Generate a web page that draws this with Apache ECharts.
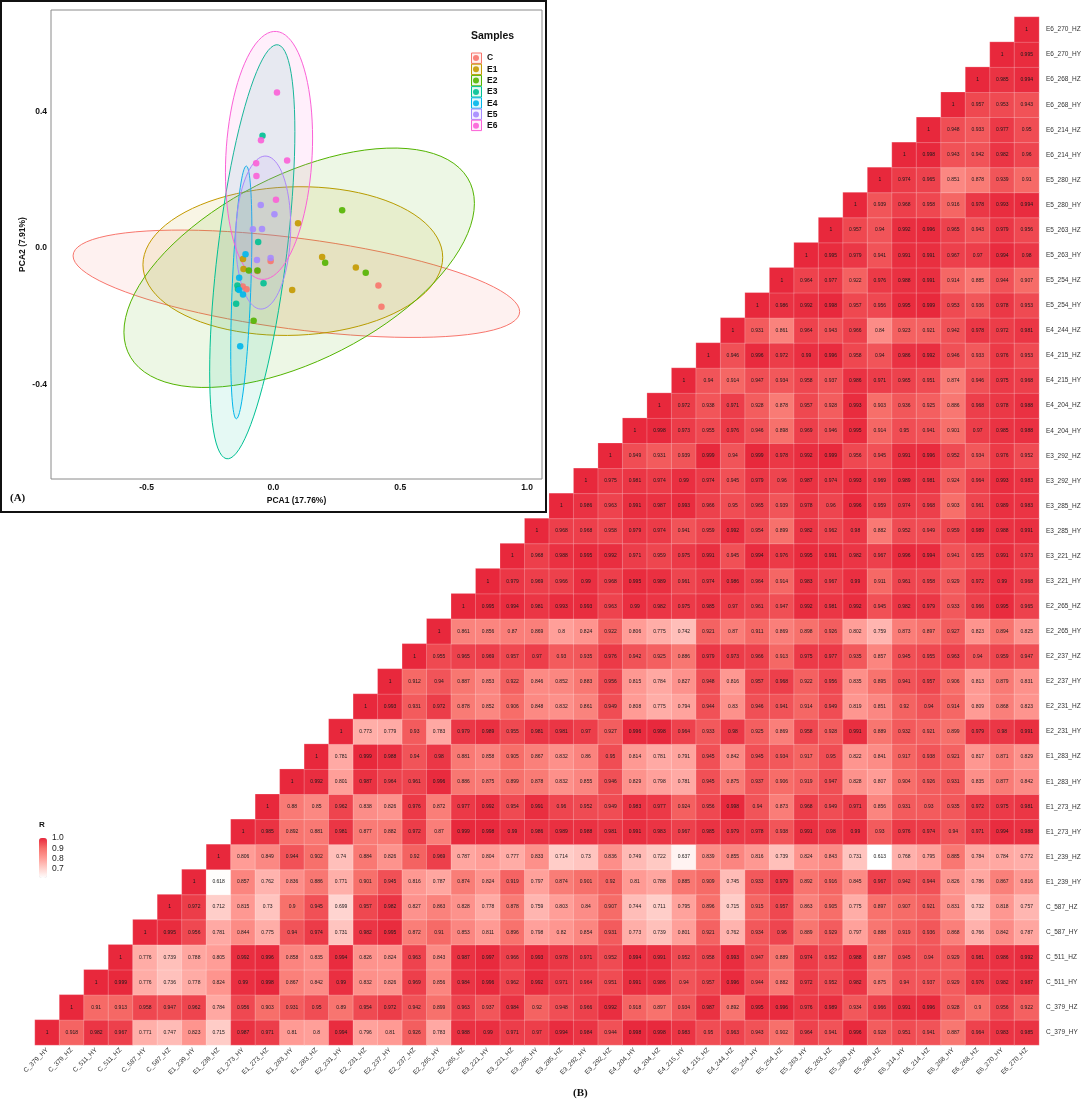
<!DOCTYPE html>
<html>
<head>
<meta charset="utf-8">
<script src="https://cdn.jsdelivr.net/npm/echarts@6/dist/echarts.min.js"></script>
<style>
html,body{margin:0;padding:0;background:#fff;}
#main{width:1084px;height:1102px;}
</style>
</head>
<body>
<div id="main"></div>
<script>
var groups = ["C","E1","E2","E3","E4","E5","E6"];
var groupColors = ["#F8766D","#C49A00","#53B400","#00C094","#00B6EB","#A58AFF","#FB61D7"];

// PCA scores: [PCA1, PCA2]
var pointsC = [[-0.011,-0.038],[0.414,-0.110],[0.426,-0.172],[-0.121,-0.113],[-0.106,-0.121],[-0.063,-0.067]];
var pointsE1 = [[0.097,0.073],[0.192,-0.026],[0.325,-0.057],[0.074,-0.123],[-0.120,-0.032],[-0.118,-0.061]];
var pointsE2 = [[0.271,0.111],[0.204,-0.043],[0.364,-0.072],[-0.078,-0.213],[-0.063,-0.066],[-0.097,-0.066]];
var pointsE3 = [[-0.043,0.329],[-0.060,0.018],[-0.039,-0.103],[-0.147,-0.163],[-0.142,-0.110],[-0.140,-0.120]];
var pointsE4 = [[-0.110,-0.018],[-0.135,-0.087],[-0.135,-0.123],[-0.120,-0.136],[-0.131,-0.288]];
var pointsE5 = [[-0.050,0.126],[0.004,0.099],[-0.081,0.055],[-0.045,0.056],[-0.065,-0.035],[-0.011,-0.029]];
var pointsE6 = [[0.014,0.456],[-0.049,0.316],[-0.068,0.249],[0.054,0.257],[-0.067,0.211],[0.010,0.142]];
var groupPoints = [pointsC,pointsE1,pointsE2,pointsE3,pointsE4,pointsE5,pointsE6];

// ellipses, one entry per group: centre, half width, half height, tilt
var ellipseCx = [0.0905,0.0765,0.1015,-0.0834,-0.1266,-0.0403,-0.0174];
var ellipseCy = [-0.1046,-0.0381,-0.0577,-0.0108,-0.130,0.0455,0.2717];
var ellipseRx = [0.8805,0.591,0.691,0.168,0.0417,0.1085,0.1718];
var ellipseRy = [0.1574,0.218,0.351,0.607,0.3705,0.2243,0.3636];
var ellipseTilt = [-0.52,0.05,0.538,0.58,0.47,0.08,0.14];

var pcaXTicks = [-0.5,0,0.5,1];
var pcaYTicks = [-0.4,0,0.4];
var colorTicks = [0.7,0.8,0.9,1];

var samples = ["C_379_HY","C_379_HZ","C_511_HY","C_511_HZ","C_587_HY","C_587_HZ",
	"E1_239_HY","E1_239_HZ","E1_273_HY","E1_273_HZ","E1_283_HY","E1_283_HZ",
	"E2_231_HY","E2_231_HZ","E2_237_HY","E2_237_HZ","E2_265_HY","E2_265_HZ",
	"E3_221_HY","E3_221_HZ","E3_285_HY","E3_285_HZ","E3_292_HY","E3_292_HZ",
	"E4_204_HY","E4_204_HZ","E4_215_HY","E4_215_HZ","E4_244_HZ",
	"E5_254_HY","E5_254_HZ","E5_263_HY","E5_263_HZ","E5_280_HY","E5_280_HZ",
	"E6_214_HY","E6_214_HZ","E6_268_HY","E6_268_HZ","E6_270_HY","E6_270_HZ"];

// correlation rows, bottom row first, each one starts on the diagonal
var r00 = [1,0.918,0.982,0.967,0.771,0.747,0.823,0.715,0.987,0.971,0.81,0.8,0.994,0.796,0.81,0.926,0.783,0.988,0.99,0.971,0.97,0.994,0.984,0.944,0.998,0.998,0.983,0.95,0.963,0.943,0.902,0.964,0.941,0.996,0.928,0.951,0.941,0.887,0.964,0.983,0.985];
var r01 = [1,0.91,0.913,0.958,0.947,0.962,0.784,0.956,0.903,0.931,0.95,0.89,0.954,0.972,0.942,0.899,0.963,0.937,0.984,0.92,0.948,0.966,0.992,0.918,0.897,0.934,0.987,0.892,0.995,0.996,0.976,0.989,0.934,0.966,0.991,0.996,0.928,0.9,0.956,0.922];
var r02 = [1,0.999,0.776,0.736,0.778,0.824,0.99,0.998,0.867,0.842,0.99,0.832,0.826,0.969,0.856,0.984,0.996,0.962,0.992,0.971,0.964,0.951,0.991,0.986,0.94,0.957,0.996,0.944,0.882,0.972,0.952,0.982,0.875,0.94,0.937,0.929,0.976,0.982,0.987];
var r03 = [1,0.776,0.739,0.788,0.805,0.992,0.996,0.858,0.835,0.994,0.826,0.824,0.963,0.843,0.987,0.997,0.966,0.993,0.978,0.971,0.952,0.994,0.991,0.952,0.958,0.993,0.947,0.889,0.974,0.952,0.988,0.887,0.945,0.94,0.929,0.981,0.986,0.992];
var r04 = [1,0.995,0.956,0.781,0.844,0.775,0.94,0.974,0.731,0.982,0.995,0.872,0.91,0.853,0.811,0.896,0.798,0.82,0.854,0.931,0.773,0.739,0.801,0.921,0.762,0.934,0.96,0.889,0.929,0.797,0.888,0.919,0.936,0.868,0.766,0.842,0.787];
var r05 = [1,0.972,0.712,0.815,0.73,0.9,0.945,0.699,0.957,0.982,0.827,0.863,0.828,0.778,0.878,0.759,0.803,0.84,0.907,0.744,0.711,0.795,0.896,0.715,0.915,0.957,0.863,0.905,0.775,0.897,0.907,0.921,0.831,0.732,0.818,0.757];
var r06 = [1,0.618,0.857,0.762,0.836,0.886,0.771,0.901,0.945,0.816,0.787,0.874,0.824,0.919,0.797,0.874,0.901,0.92,0.81,0.788,0.885,0.909,0.745,0.933,0.979,0.892,0.916,0.845,0.967,0.942,0.944,0.826,0.786,0.867,0.816];
var r07 = [1,0.806,0.849,0.944,0.902,0.74,0.884,0.826,0.92,0.969,0.787,0.804,0.777,0.833,0.714,0.73,0.836,0.749,0.722,0.637,0.839,0.855,0.816,0.739,0.824,0.843,0.731,0.613,0.768,0.795,0.885,0.784,0.784,0.772];
var r08 = [1,0.985,0.892,0.881,0.981,0.877,0.882,0.972,0.87,0.999,0.998,0.99,0.986,0.989,0.988,0.981,0.991,0.983,0.967,0.985,0.979,0.978,0.938,0.991,0.98,0.99,0.93,0.976,0.974,0.94,0.971,0.994,0.988];
var r09 = [1,0.88,0.85,0.962,0.838,0.826,0.976,0.872,0.977,0.992,0.954,0.991,0.96,0.952,0.949,0.983,0.977,0.924,0.956,0.998,0.94,0.873,0.968,0.949,0.971,0.856,0.931,0.93,0.935,0.972,0.975,0.981];
var r10 = [1,0.992,0.801,0.987,0.964,0.961,0.996,0.886,0.875,0.899,0.878,0.832,0.855,0.946,0.829,0.798,0.781,0.945,0.875,0.937,0.906,0.919,0.947,0.828,0.807,0.904,0.926,0.931,0.835,0.877,0.842];
var r11 = [1,0.781,0.999,0.988,0.94,0.98,0.881,0.858,0.905,0.867,0.832,0.86,0.95,0.814,0.781,0.791,0.945,0.842,0.945,0.934,0.917,0.95,0.822,0.841,0.917,0.938,0.921,0.817,0.871,0.829];
var r12 = [1,0.773,0.779,0.93,0.783,0.979,0.989,0.955,0.981,0.981,0.97,0.927,0.996,0.998,0.964,0.933,0.98,0.925,0.869,0.958,0.928,0.991,0.889,0.932,0.921,0.899,0.979,0.98,0.991];
var r13 = [1,0.993,0.931,0.972,0.878,0.852,0.906,0.848,0.832,0.861,0.949,0.808,0.775,0.794,0.944,0.83,0.946,0.941,0.914,0.949,0.819,0.851,0.92,0.94,0.914,0.809,0.868,0.823];
var r14 = [1,0.912,0.94,0.887,0.853,0.922,0.846,0.852,0.883,0.956,0.815,0.784,0.827,0.948,0.816,0.957,0.968,0.922,0.956,0.835,0.895,0.941,0.957,0.906,0.813,0.879,0.831];
var r15 = [1,0.955,0.965,0.969,0.957,0.97,0.93,0.935,0.976,0.942,0.925,0.886,0.979,0.973,0.966,0.913,0.975,0.977,0.935,0.857,0.945,0.955,0.963,0.94,0.959,0.947];
var r16 = [1,0.861,0.856,0.87,0.869,0.8,0.824,0.922,0.806,0.775,0.742,0.921,0.87,0.911,0.869,0.898,0.926,0.802,0.759,0.873,0.897,0.927,0.823,0.894,0.825];
var r17 = [1,0.995,0.994,0.981,0.993,0.993,0.963,0.99,0.982,0.975,0.985,0.97,0.961,0.947,0.992,0.981,0.992,0.945,0.982,0.979,0.933,0.966,0.995,0.965];
var r18 = [1,0.979,0.969,0.966,0.99,0.968,0.995,0.989,0.961,0.974,0.986,0.964,0.914,0.983,0.967,0.99,0.911,0.961,0.958,0.929,0.972,0.99,0.968];
var r19 = [1,0.968,0.988,0.995,0.992,0.971,0.959,0.975,0.991,0.945,0.994,0.976,0.995,0.991,0.982,0.967,0.996,0.994,0.941,0.955,0.991,0.973];
var r20 = [1,0.968,0.968,0.958,0.979,0.974,0.941,0.959,0.992,0.954,0.899,0.982,0.962,0.98,0.882,0.952,0.949,0.959,0.989,0.988,0.991];
var r21 = [1,0.986,0.963,0.991,0.987,0.993,0.966,0.95,0.965,0.939,0.978,0.96,0.996,0.959,0.974,0.968,0.903,0.961,0.989,0.983];
var r22 = [1,0.975,0.981,0.974,0.99,0.974,0.945,0.979,0.96,0.987,0.974,0.993,0.969,0.989,0.981,0.924,0.964,0.993,0.983];
var r23 = [1,0.949,0.931,0.939,0.999,0.94,0.999,0.978,0.992,0.999,0.956,0.945,0.991,0.996,0.952,0.934,0.976,0.952];
var r24 = [1,0.998,0.973,0.955,0.976,0.946,0.898,0.969,0.946,0.995,0.914,0.95,0.941,0.901,0.97,0.985,0.988];
var r25 = [1,0.972,0.938,0.971,0.928,0.878,0.957,0.928,0.993,0.903,0.936,0.925,0.886,0.968,0.978,0.988];
var r26 = [1,0.94,0.914,0.947,0.934,0.958,0.937,0.986,0.971,0.965,0.951,0.874,0.946,0.975,0.968];
var r27 = [1,0.946,0.996,0.972,0.99,0.996,0.958,0.94,0.986,0.992,0.946,0.933,0.976,0.953];
var r28 = [1,0.931,0.861,0.964,0.943,0.966,0.84,0.923,0.921,0.942,0.978,0.972,0.981];
var r29 = [1,0.986,0.992,0.998,0.957,0.956,0.995,0.999,0.953,0.936,0.978,0.953];
var r30 = [1,0.964,0.977,0.922,0.976,0.988,0.991,0.914,0.885,0.944,0.907];
var r31 = [1,0.995,0.979,0.941,0.991,0.991,0.967,0.97,0.994,0.98];
var r32 = [1,0.957,0.94,0.992,0.996,0.965,0.943,0.979,0.956];
var r33 = [1,0.939,0.968,0.958,0.916,0.978,0.993,0.994];
var r34 = [1,0.974,0.965,0.851,0.878,0.939,0.91];
var r35 = [1,0.998,0.943,0.942,0.982,0.96];
var r36 = [1,0.948,0.933,0.977,0.95];
var r37 = [1,0.957,0.953,0.943];
var r38 = [1,0.985,0.994];
var r39 = [1,0.995];
var r40 = [1];
var rows = [r00,r01,r02,r03,r04,r05,r06,r07,r08,r09,r10,r11,r12,r13,r14,r15,r16,r17,r18,r19,r20,
	r21,r22,r23,r24,r25,r26,r27,r28,r29,r30,r31,r32,r33,r34,r35,r36,r37,r38,r39,r40];

var SANS = "Liberation Sans";
var SERIF = "Liberation Serif";

function hexAlpha(hex,a){
	var n = parseInt(hex.slice(1),16);
	return "rgba(" + (n >> 16) + "," + ((n >> 8) & 255) + "," + (n & 255) + "," + a + ")";
}

function heatData(){
	var out = [];
	rows.forEach(function(row,i){
		row.forEach(function(v,j){
			out.push([i + j,i,v]);
		});
	});
	return out;
}

function ellipseData(){
	return groups.map(function(g,i){
		return [ellipseCx[i],ellipseCy[i],ellipseRx[i],ellipseRy[i],ellipseTilt[i]];
	});
}

function renderEllipse(params,api){
	var cx = api.value(0),cy = api.value(1),rx = api.value(2),ry = api.value(3);
	var phi = Math.asin(api.value(4));
	var pts = [];
	for(var s = 0;s < 90;s++){
		var t = s / 90 * Math.PI * 2;
		pts.push(api.coord([cx + rx * Math.cos(t),cy + ry * Math.sin(t + phi)]));
	}
	var color = groupColors[params.dataIndex];
	return {
		type:"polygon",
		shape:{points:pts},
		style:{fill:hexAlpha(color,0.1),stroke:color,lineWidth:1}
	};
}

function legendBoxes(){
	return groups.map(function(g,i){
		return {
			type:"rect",
			z:1,
			shape:{x:471.5,y:53 + i * 11.2,width:10,height:10.4},
			style:{fill:hexAlpha(groupColors[i],0.1),stroke:groupColors[i],lineWidth:1}
		};
	});
}

var pcaAxisLabel = {fontFamily:SANS,fontSize:8.5,fontWeight:"bold",color:"#111"};
function oneDecimal(v){
	return Number(v).toFixed(1);
}

var series = [{
	name:"R",
	type:"heatmap",
	xAxisIndex:0,
	yAxisIndex:0,
	data:heatData(),
	z:2,
	itemStyle:{borderColor:"rgba(255,255,255,0.22)",borderWidth:1},
	label:{
		show:true,
		fontFamily:SANS,
		fontSize:5,
		color:"#1a1a1a",
		formatter:function(p){ return String(p.value[2]); }
	},
	emphasis:{disabled:true}
},{
	name:"ellipses",
	type:"custom",
	xAxisIndex:1,
	yAxisIndex:1,
	renderItem:renderEllipse,
	data:ellipseData(),
	z:3,
	silent:true
}];
groups.forEach(function(g,i){
	series.push({
		name:g,
		type:"scatter",
		xAxisIndex:1,
		yAxisIndex:1,
		data:groupPoints[i],
		symbolSize:6.5,
		z:4,
		itemStyle:{color:groupColors[i],opacity:0.9}
	});
});

var option = {
	animation:false,
	backgroundColor:"#fff",
	title:[
		{text:"Samples",left:471,top:31,padding:0,textStyle:{fontFamily:SANS,fontSize:10.5,fontWeight:"bold",color:"#111"}},
		{text:"(A)",left:10,top:493,padding:0,textStyle:{fontFamily:SERIF,fontSize:11,fontWeight:"bold",color:"#111"}},
		{text:"(B)",left:573,top:1088,padding:0,textStyle:{fontFamily:SERIF,fontSize:11,fontWeight:"bold",color:"#111"}},
		{text:"R",left:39,top:821,padding:0,textStyle:{fontFamily:SANS,fontSize:8,fontWeight:"bold",color:"#111"}}
	],
	grid:[
		{left:35,top:17,width:1007,height:1028},
		{left:51,top:10,width:491,height:469,show:true,backgroundColor:"#fff",borderColor:"#8a8a8a",borderWidth:1,z:1},
		{left:47,top:838,width:1,height:40}
	],
	xAxis:[{
		type:"category",
		gridIndex:0,
		data:samples,
		axisLine:{show:false},
		axisTick:{length:2,lineStyle:{color:"#888"},alignWithLabel:true},
		splitLine:{show:false},
		axisLabel:{interval:0,rotate:45,margin:4,fontFamily:SANS,fontSize:6.5,color:"#333"}
	},{
		type:"value",
		gridIndex:1,
		min:-0.877,
		max:1.059,
		name:"PCA1 (17.76%)",
		nameLocation:"middle",
		nameGap:17,
		nameTextStyle:pcaAxisLabel,
		axisLine:{show:false},
		splitLine:{show:false},
		axisTick:{length:2,customValues:pcaXTicks,lineStyle:{color:"#666"}},
		axisLabel:{customValues:pcaXTicks,formatter:oneDecimal,margin:4,fontFamily:SANS,fontSize:8.5,fontWeight:"bold",color:"#111"}
	},{
		type:"value",
		gridIndex:2,
		show:false,
		min:0,
		max:1
	}],
	yAxis:[{
		type:"category",
		gridIndex:0,
		position:"right",
		data:samples,
		axisLine:{show:false},
		axisTick:{show:false},
		splitLine:{show:false},
		axisLabel:{interval:0,margin:7,fontFamily:SANS,fontSize:6.5,color:"#333"}
	},{
		type:"value",
		gridIndex:1,
		min:-0.677,
		max:0.698,
		name:"PCA2 (7.91%)",
		nameLocation:"middle",
		nameRotate:90,
		nameGap:24,
		nameTextStyle:pcaAxisLabel,
		axisLine:{show:false},
		splitLine:{show:false},
		axisTick:{length:2,customValues:pcaYTicks,lineStyle:{color:"#666"}},
		axisLabel:{customValues:pcaYTicks,formatter:oneDecimal,margin:4,fontFamily:SANS,fontSize:8.5,fontWeight:"bold",color:"#111"}
	},{
		type:"value",
		gridIndex:2,
		position:"right",
		min:0.613,
		max:1,
		axisLine:{show:false},
		axisTick:{show:false},
		splitLine:{show:false},
		axisLabel:{customValues:colorTicks,formatter:oneDecimal,margin:4,fontFamily:SANS,fontSize:8.5,color:"#222"}
	}],
	visualMap:{
		type:"continuous",
		seriesIndex:0,
		min:0.613,
		max:1,
		left:39,
		top:838,
		itemWidth:8,
		itemHeight:40,
		padding:0,
		calculable:false,
		inRange:{color:["#ffffff","#FFCFCA","#FF9C96","#F76F6A","#E8283C"]}
	},
	legend:{
		data:groups,
		orient:"vertical",
		left:473,
		top:53.5,
		padding:0,
		itemWidth:8,
		itemHeight:6,
		itemGap:2.3,
		icon:"circle",
		selectedMode:false,
		textStyle:{fontFamily:SANS,fontSize:8.5,fontWeight:"bold",color:"#111",padding:[0,0,0,2]}
	},
	graphic:[{
		type:"rect",
		z:0,
		shape:{x:1,y:1,width:545,height:511},
		style:{fill:null,stroke:"#111",lineWidth:2}
	}].concat(legendBoxes()),
	series:series
};

var myChart = echarts.init(document.getElementById("main"),null,{renderer:"canvas"});
myChart.setOption(option);
</script>
</body>
</html>
